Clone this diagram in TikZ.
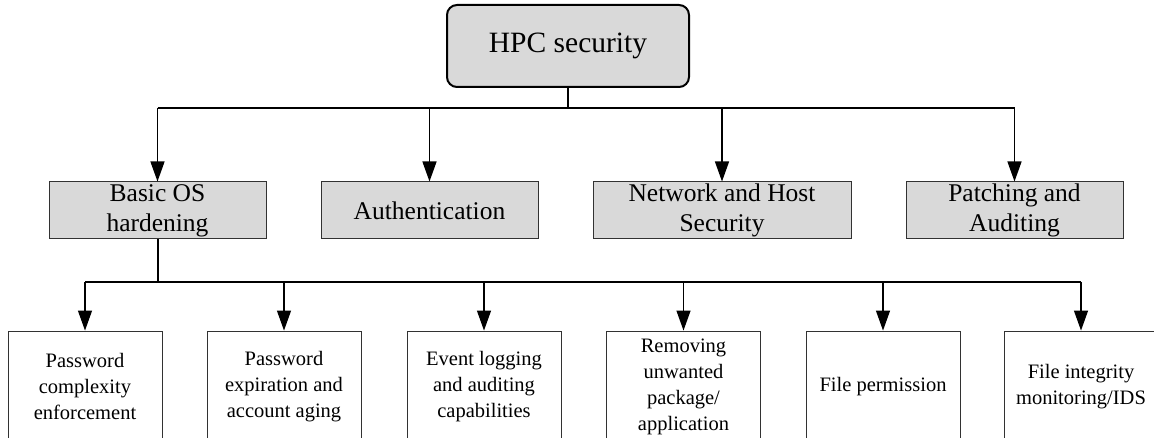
\documentclass[tikz,border=0pt]{standalone}
\usepackage{fontspec}
\setmainfont{Liberation Serif}
\usetikzlibrary{arrows.meta}
\definecolor{boxgray}{RGB}{217,217,217}
\definecolor{edgegray}{RGB}{50,50,50}
\tikzset{
  topbox/.style={draw=black, line width=2pt, rounded corners=10pt, fill=boxgray,
    minimum width=242pt, minimum height=82pt, inner sep=0pt,
    font=\fontsize{29.5}{34}\selectfont, align=center},
  midbox/.style={draw=edgegray, line width=1pt, fill=boxgray,
    minimum height=57pt, inner sep=0pt,
    font=\fontsize{25.5}{30}\selectfont, align=center},
  leafbox/.style={draw=edgegray, line width=0.9pt, fill=white,
    minimum width=154pt, minimum height=111pt, inner sep=0pt,
    font=\fontsize{20.5}{26}\selectfont, align=center},
  bus/.style={line width=1.3pt},
  thickbus/.style={line width=2pt},
  arr/.style={line width=1.3pt, -{Triangle[length=20pt,width=14pt]}},
}
\begin{document}
\begin{tikzpicture}[x=1pt,y=-1pt]
\useasboundingbox (0,0) rectangle (1154,438);
\clip (0,0) rectangle (1154,438);
\node[topbox] (hpc) at (568,46) {HPC security};

\node[midbox, minimum width=217pt] (basic) at (157.5,210.5) {Basic OS\\hardening};
\node[midbox, minimum width=217pt] (auth) at (429.5,210.5) {Authentication};
\node[midbox, minimum width=258pt] (net) at (722,210.5) {Network and Host\\Security};
\node[midbox, minimum width=217pt] (patch) at (1014.5,210.5) {Patching and\\Auditing};

\node[leafbox] (l1) at (85,386.5) {Password\\complexity\\enforcement};
\node[leafbox] (l2) at (284,386.5) {Password\\expiration and\\account aging};
\node[leafbox] (l3) at (484,386.5) {Event logging\\and auditing\\capabilities};
\node[leafbox] (l4) at (683.5,386.5) {Removing\\unwanted\\package/\\application};
\node[leafbox] (l5) at (883,386.5) {File permission};
\node[leafbox] (l6) at (1081,386.5) {File integrity\\monitoring/IDS};

\coordinate (j1) at (568,108);
\coordinate (j2) at (157.5,282);

% top level connectors
\draw[thickbus] (hpc.south) -- (j1);
\draw[bus] (basic.north |- j1) -- (patch.north |- j1);
\foreach \n in {basic,auth,net,patch}
  \draw[arr] (\n.north |- j1) -- (\n.north);

% second level connectors
\draw[thickbus] (basic.south) -- (j2);
\draw[bus] (l1.north |- j2) -- (l6.north |- j2);
\foreach \n in {l1,l2,l3,l4,l5,l6}
  \draw[arr] (\n.north |- j2) -- (\n.north);
\end{tikzpicture}
\end{document}
